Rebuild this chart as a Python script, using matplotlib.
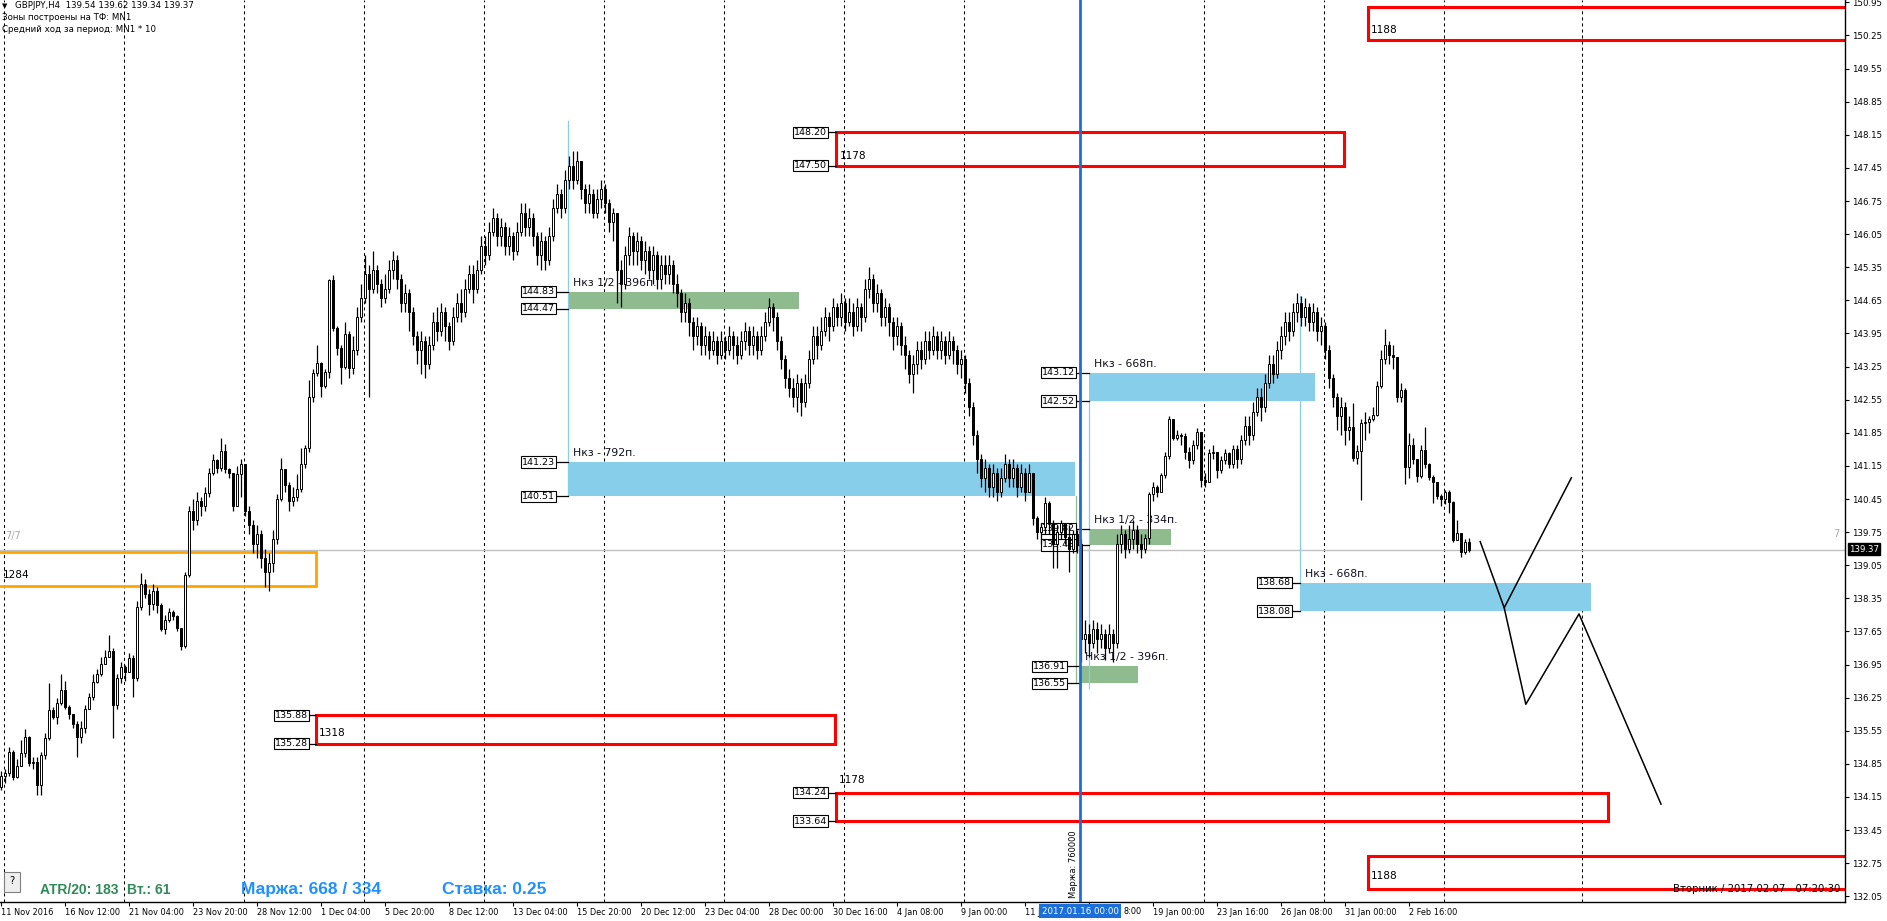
import numpy as np
import matplotlib
matplotlib.use('Agg')
import matplotlib.pyplot as plt
from matplotlib.patches import Rectangle

plt.rcParams['font.family'] = ['DejaVu Sans']

W, H = 1887, 921

# ---------------- H4 candles (bar 0 = first visible bar) ----------------
open0 = 134.37
close = [
 134.60,134.65,135.10,134.58,134.80,135.07,135.41,134.86,134.90,134.40,135.03,135.39,135.99,135.85,136.13,136.41,136.06,135.90,135.69,135.41,135.60,136.02,136.27,136.59,136.76,136.97,137.10,137.23,136.09,136.66,
 136.90,136.80,137.08,136.66,138.17,138.66,138.45,138.24,138.50,138.20,137.71,137.89,138.06,137.97,137.73,137.34,138.84,140.20,140.00,140.40,140.30,140.57,140.99,141.27,141.10,141.46,141.08,140.99,140.30,140.97,
 141.20,140.20,139.90,139.50,139.70,139.20,138.90,139.10,139.60,140.45,141.08,140.74,140.40,140.50,140.67,141.18,141.52,142.61,143.12,143.32,142.84,143.13,145.08,144.06,143.65,143.25,143.93,143.23,143.60,144.30,
 144.70,145.20,144.90,145.30,145.00,144.70,144.90,145.30,145.50,145.10,144.60,144.80,144.40,143.90,143.60,143.80,143.30,143.70,144.20,144.00,144.40,144.10,143.80,144.30,144.60,144.40,144.90,145.20,144.90,145.30,
 145.80,145.60,146.10,146.40,146.00,146.20,145.80,146.00,145.70,146.10,146.50,146.20,146.40,146.00,145.60,145.90,145.50,146.00,146.60,146.90,146.60,147.20,147.50,147.20,147.60,147.00,146.70,146.90,146.50,146.80,
 147.00,146.70,146.30,146.50,145.30,145.00,145.60,146.00,145.70,145.90,145.50,145.70,145.30,145.60,145.10,145.40,145.20,145.40,145.00,144.80,144.40,144.60,144.20,143.90,144.10,143.70,143.90,143.60,143.80,143.50,
 143.80,143.60,143.90,143.70,143.50,143.80,144.00,143.70,143.90,143.60,143.90,144.20,144.50,144.30,143.80,143.40,143.00,142.80,142.60,142.90,142.50,142.90,143.40,143.90,143.70,144.00,144.30,144.10,144.50,144.30,
 144.60,144.20,144.40,144.10,144.50,144.30,144.90,145.10,144.60,144.80,144.30,144.50,144.20,143.90,144.10,143.70,143.50,143.10,143.30,143.60,143.40,143.80,143.60,143.90,143.60,143.80,143.50,143.80,143.60,143.30,
 143.40,142.90,142.40,141.80,141.30,140.90,141.10,140.70,141.00,140.60,140.90,141.20,140.90,141.10,140.70,141.00,140.60,140.99,140.04,139.76,139.86,140.36,139.95,139.50,139.76,139.94,139.65,139.40,139.70,139.50,
 137.50,137.60,137.40,137.70,137.50,137.60,137.30,137.60,137.40,139.50,139.70,139.40,139.60,139.80,139.50,139.40,139.62,140.56,140.71,140.60,140.96,141.36,142.14,141.75,141.80,141.78,141.45,141.27,141.60,141.87,
 140.85,140.80,141.42,141.45,141.06,141.27,141.42,141.20,141.50,141.30,141.70,142.00,141.80,142.30,142.60,142.40,142.90,143.30,143.10,143.60,143.90,144.20,144.00,144.40,144.60,144.30,144.50,144.20,144.40,144.00,
 144.10,143.60,143.00,142.60,142.20,142.40,141.90,141.98,141.31,141.47,142.05,142.07,142.14,142.23,142.83,143.40,143.70,143.50,143.45,142.61,142.76,141.12,141.59,141.30,140.94,141.49,141.19,140.91,140.80,140.52,
 140.44,140.59,140.39,139.58,139.74,139.32,139.55,139.37]
high = [
 134.70,134.75,135.20,135.15,134.95,135.35,135.58,135.45,135.00,135.00,135.10,135.50,136.56,136.05,136.25,136.76,136.60,136.10,135.90,135.75,135.75,136.10,136.35,136.75,136.85,137.10,137.25,137.57,137.30,136.75,
 137.00,136.95,137.20,137.15,138.30,138.88,138.75,138.55,138.65,138.60,138.25,138.00,138.15,138.10,138.00,137.40,138.90,140.30,140.45,140.60,140.50,140.70,141.10,141.40,141.30,141.73,141.61,141.10,141.00,141.15,
 141.30,140.95,140.30,140.00,139.90,139.80,139.40,139.30,139.80,140.55,141.31,141.06,140.80,140.70,140.98,141.52,141.60,142.96,143.20,143.70,143.35,143.20,145.11,145.18,144.10,143.70,144.20,144.00,143.90,144.50,
 145.00,145.60,145.40,145.70,145.40,145.10,145.20,145.50,145.70,145.60,145.20,145.00,144.90,144.50,144.00,144.00,143.90,143.90,144.40,144.50,144.60,144.50,144.20,144.50,144.80,144.90,145.10,145.40,145.40,145.50,
 146.00,146.00,146.30,146.60,146.50,146.40,146.30,146.20,146.10,146.30,146.70,146.70,146.60,146.50,146.10,146.10,146.00,146.20,146.80,147.10,147.00,147.40,147.70,147.80,147.80,147.60,147.10,147.10,147.00,147.00,
 147.20,147.10,146.80,146.60,146.50,145.50,145.80,146.20,146.10,146.10,146.00,145.90,145.80,145.80,145.70,145.60,145.60,145.60,145.50,145.20,144.90,144.80,144.70,144.30,144.30,144.20,144.10,144.00,144.00,143.90,
 144.00,143.90,144.10,144.00,143.90,144.00,144.20,144.10,144.10,144.00,144.10,144.40,144.70,144.60,144.40,143.90,143.50,143.20,143.00,143.10,143.00,143.10,143.60,144.10,144.10,144.30,144.50,144.40,144.70,144.60,
 144.80,144.70,144.70,144.60,144.70,144.60,145.10,145.35,145.20,145.00,144.90,144.70,144.60,144.30,144.30,144.20,143.90,143.60,143.50,143.80,143.80,144.00,144.00,144.10,144.00,144.00,143.90,144.00,143.90,143.70,
 143.60,143.50,143.00,142.50,141.90,141.40,141.30,141.20,141.20,141.10,141.10,141.40,141.30,141.30,141.20,141.20,141.10,141.20,141.00,140.10,139.95,140.50,140.40,140.00,139.90,140.00,139.95,139.90,139.80,139.80,
 139.60,137.90,137.80,137.90,137.85,137.80,137.70,137.80,137.70,139.70,139.90,139.80,139.90,140.00,139.90,139.70,139.70,140.60,140.80,140.75,141.00,141.45,142.20,142.15,141.90,141.85,141.85,141.56,141.70,141.95,
 141.42,140.99,141.50,141.60,141.45,141.35,141.50,141.45,141.60,141.60,141.80,142.20,142.20,142.50,142.80,142.80,143.10,143.50,143.50,143.80,144.10,144.40,144.40,144.60,144.80,144.75,144.70,144.60,144.60,144.50,
 144.30,144.20,143.70,143.10,142.70,142.60,142.50,142.20,142.47,141.60,142.15,142.30,142.20,142.40,142.95,143.60,144.05,143.80,143.70,143.40,142.90,142.80,141.85,141.75,141.30,141.60,141.98,141.21,140.95,140.82,
 140.55,140.64,140.64,140.40,140.01,139.74,139.60,139.62]
low = [
 134.30,134.45,134.60,134.50,134.55,134.80,135.00,134.80,134.75,134.19,134.20,134.95,135.35,135.80,135.70,136.10,136.00,135.80,135.60,135.00,135.30,135.50,136.00,136.20,136.55,136.70,137.00,137.10,135.39,136.00,
 136.55,136.60,136.80,136.27,136.60,138.10,138.35,138.00,138.10,138.05,137.65,137.60,137.85,137.90,137.65,137.26,137.30,138.80,139.80,139.90,140.10,140.20,140.50,140.95,141.00,141.05,141.00,140.90,140.20,140.30,
 140.50,140.10,139.70,139.30,139.20,139.00,138.60,138.50,138.90,139.50,140.40,140.60,140.20,140.30,140.40,140.60,141.10,141.45,142.50,143.05,142.61,142.80,143.00,144.00,143.50,142.89,143.20,143.00,143.10,143.50,
 144.20,144.60,142.60,144.80,144.80,144.50,144.60,144.80,145.10,144.90,144.40,144.40,144.00,143.70,143.30,143.10,143.00,143.20,143.60,143.80,143.90,143.80,143.60,143.70,144.20,144.20,144.30,144.80,144.60,144.80,
 145.20,145.40,145.50,146.00,145.80,145.80,145.60,145.60,145.50,145.60,146.00,146.00,146.00,145.80,145.40,145.30,145.30,145.40,145.90,146.50,146.40,146.50,147.00,147.00,147.10,146.80,146.50,146.50,146.40,146.40,
 146.60,146.50,146.10,145.90,144.60,144.50,144.90,145.40,145.40,145.40,145.30,145.20,145.10,145.00,144.90,144.90,145.00,145.00,144.80,144.50,144.20,144.20,143.90,143.60,143.70,143.50,143.50,143.40,143.50,143.30,
 143.40,143.40,143.50,143.40,143.30,143.40,143.60,143.50,143.50,143.40,143.50,143.80,144.10,144.00,143.60,143.20,142.80,142.60,142.40,142.30,142.20,142.40,142.80,143.30,143.40,143.60,143.90,143.80,144.00,144.10,
 144.10,144.00,144.10,143.90,144.00,144.00,144.20,144.70,144.40,144.40,144.10,144.10,143.90,143.60,143.70,143.50,143.20,142.90,142.70,143.10,143.20,143.30,143.40,143.50,143.40,143.40,143.30,143.40,143.30,143.10,
 143.00,142.70,142.20,141.60,141.00,140.70,140.60,140.50,140.50,140.40,140.50,140.80,140.70,140.70,140.50,140.60,140.40,140.70,139.90,139.60,139.50,139.70,139.70,139.00,139.00,139.60,139.50,138.90,139.30,139.30,
 137.00,137.20,137.10,137.30,137.20,137.30,137.05,137.20,137.00,137.30,139.30,139.20,139.30,139.40,139.30,139.20,139.30,139.50,140.40,140.50,140.60,140.90,141.30,141.70,141.70,141.60,141.30,141.10,141.20,141.50,
 140.70,140.70,140.80,141.30,140.90,141.00,141.20,141.10,141.10,141.10,141.20,141.60,141.60,141.70,142.20,142.10,142.30,142.80,142.90,143.00,143.40,143.70,143.80,143.90,144.20,144.10,144.10,144.00,144.00,143.80,
 143.70,143.40,142.80,142.40,141.90,141.80,141.60,141.70,141.25,141.20,140.43,141.70,141.85,142.10,142.20,142.80,143.30,143.30,143.20,142.50,142.50,140.77,140.90,141.20,140.80,140.90,141.10,140.85,140.36,140.45,
 140.30,140.35,140.15,139.55,139.60,139.23,139.28,139.34]

# time axis: one label every 16 bars (two of them are mostly hidden by the marker tag)
time_labels = ['11 Nov 2016', '16 Nov 12:00', '21 Nov 04:00', '23 Nov 20:00', '28 Nov 12:00',
               '1 Dec 04:00', '5 Dec 20:00', '8 Dec 12:00', '13 Dec 04:00', '15 Dec 20:00',
               '20 Dec 12:00', '23 Dec 04:00', '28 Dec 00:00', '30 Dec 16:00', '4 Jan 08:00',
               '9 Jan 00:00', '11 J', '', '19 Jan 00:00', '23 Jan 16:00',
               '26 Jan 08:00', '31 Jan 00:00', '2 Feb 16:00']
hidden_tail = '8:00'
price_ticks = [132.05, 132.75, 133.45, 134.15, 134.85, 135.55, 136.25, 136.95, 137.65, 138.35,
               139.05, 139.75, 140.45, 141.15, 141.85, 142.55, 143.25, 143.95, 144.65, 145.35,
               146.05, 146.75, 147.45, 148.15, 148.85, 149.55, 150.25, 150.95]
week_starts = [0.75, 30.75, 60.75, 90.75, 120.75, 150.75, 180.75, 210.75, 240.75, 300.75, 330.75, 360.75, 395.25]
bid = 139.37

# zones: (bar from, bar to, top price, bottom price)
red_zones = [(341.75, 470, 150.85, 150.15), (208.75, 335.75, 148.20, 147.50),
             (78.75, 208.5, 135.88, 135.28), (208.75, 401.75, 134.24, 133.64),
             (341.75, 470, 132.90, 132.20)]
red_texts = ['1188', '1178', '1318', '1178', '1188']
orange_zone = (-5, 78.75, 139.32, 138.62)
blue_zones = [(141.75, 268.5, 141.23, 140.51), (272.0, 328.5, 143.12, 142.52), (324.75, 397.5, 138.68, 138.08)]
blue_names = ['Нкз - 792п.', 'Нкз - 668п.', 'Нкз - 668п.']
green_zones = [(141.75, 199.5, 144.83, 144.47), (272.0, 292.5, 139.82, 139.48), (269.75, 284.25, 136.91, 136.55)]
green_names = ['Нкз 1/2 - 396п.', 'Нкз 1/2 - 334п.', 'Нкз 1/2 - 396п.']
# price tag boxes: (right edge bar, zone left bar, top, bottom)
tag_boxes = [(139.0, 141.75, 144.83, 144.47), (139.0, 141.75, 141.23, 140.51),
             (77.3, 78.75, 135.88, 135.28), (207.0, 208.75, 148.20, 147.50),
             (207.0, 208.75, 134.24, 133.64), (269.0, 272.0, 143.12, 142.52),
             (269.0, 272.0, 139.82, 139.48), (266.8, 269.75, 136.91, 136.55),
             (323.0, 324.75, 138.68, 138.08)]
# thin vertical links (bar, from, to, colour)
zone_links = [(141.75, 148.45, 140.51, '#87CEEB'), (272.0, 142.52, 136.45, '#87CEEB'),
              (324.75, 144.75, 138.08, '#87CEEB'), (268.75, 140.51, 136.55, '#8FBC8F')]
# forecast zigzags
fc_a_x, fc_a_y = [369.8, 375.8, 392.6], [139.55, 138.15, 140.90]
fc_b_x, fc_b_y = [375.8, 381.2, 394.5, 415.0], [138.15, 136.11, 138.02, 134.00]
marker_bar = 269.75

# ---------------- figure ----------------
fig = plt.figure(figsize=(W / 100, H / 100), dpi=100)
ax = fig.add_axes([0, 19 / H, 1845 / W, 902 / H])
ax.set_xlim(-0.25, 461.0)
ax.set_ylim(131.93, 151.0)
for s in ['top', 'left']:
    ax.spines[s].set_visible(False)
ax.spines['right'].set_linewidth(1.0)
ax.spines['bottom'].set_linewidth(1.0)

def px(x, y):
    return x / W, 1 - y / H

# week separators
for x in week_starts:
    ax.axvline(x, color='black', lw=0.75, ls=(0, (2.9, 2.9)), zorder=1)

# zones
for (x0, x1, t, b), txt in zip(red_zones, red_texts):
    ax.add_patch(Rectangle((x0, b), x1 - x0, t - b, fill=False, ec='#FF0000', lw=2.2, zorder=2))
x0, x1, t, b = orange_zone
ax.add_patch(Rectangle((x0, b), x1 - x0, t - b, fill=False, ec='#FFA500', lw=2.0, zorder=2))
for (x0, x1, t, b), name in zip(blue_zones, blue_names):
    ax.add_patch(Rectangle((x0, b), x1 - x0, t - b, fc='#87CEEB', ec='none', zorder=1.5))
    ax.annotate(name, (x0, t), xytext=(5, 9), textcoords='offset pixels', va='center',
                fontsize=7.8, color='#101020', zorder=2)
for (x0, x1, t, b), name in zip(green_zones, green_names):
    ax.add_patch(Rectangle((x0, b), x1 - x0, t - b, fc='#8FBC8F', ec='none', zorder=1.5))
    ax.annotate(name, (x0, t), xytext=(5, 9), textcoords='offset pixels', va='center',
                fontsize=7.8, color='#101020', zorder=2)
for xb, xz, t, b in tag_boxes:
    for p in (t, b):
        ax.plot([xb, xz], [p, p], color='black', lw=0.9, zorder=2)
        ax.text(xb - 0.5, p, f'{p:.2f}', ha='right', va='center', fontsize=6.8, zorder=2.5,
                bbox=dict(boxstyle='square,pad=0.12', fc='white', ec='black', lw=0.8))
for x, p0, p1, c in zone_links:
    ax.plot([x, x], [p0, p1], color=c, lw=0.9, zorder=1.6)

# zone size labels
red_text_pos = [(1371, 30), (840, 156), (319, 733), (839, 780), (1371, 876)]
for (xf, yf), txt in zip(red_text_pos, red_texts):
    fig.text(*px(xf, yf), txt, ha='left', va='center', fontsize=7.6, color='black')
fig.text(*px(3, 575), '1284', ha='left', va='center', fontsize=7.6, color='black')

# bid line
ax.axhline(bid, color='#C0C0C0', lw=1.0, zorder=1)
fig.text(*px(5, 536), '7/7', fontsize=7, color='#A8A8A8', va='center')
fig.text(*px(1833, 534), '7', fontsize=7, color='#A8A8A8', va='center')

# candles
c = np.array(close)
o = np.concatenate([[open0], c[:-1]])
h = np.maximum(np.array(high), np.maximum(o, c))
l = np.minimum(np.array(low), np.minimum(o, c))
xs = np.arange(len(c))
ax.vlines(xs, l, h, color='black', lw=0.9, zorder=3)
body_b = np.minimum(o, c)
body_h = np.maximum(np.abs(c - o), 0.012)
face = ['white' if cc >= oo else 'black' for oo, cc in zip(o, c)]
ax.bar(xs, body_h, bottom=body_b, width=0.55, color=face, edgecolor='black', linewidth=0.7, zorder=4)

# forecast
ax.plot(fc_a_x, fc_a_y, color='black', lw=1.1, zorder=5)
ax.plot(fc_b_x, fc_b_y, color='black', lw=1.1, zorder=5)

# blue time marker
ax.axvline(marker_bar, color='#1C6FD8', lw=2.0, zorder=6)
ax.text(marker_bar - 1.6, 132.02, 'Маржа: 760000', rotation=90, ha='center', va='bottom',
        fontsize=6, color='black', zorder=6)

# axes ticks
ax.yaxis.tick_right()
ax.set_yticks(price_ticks)
ax.set_yticklabels([f'{v:.2f}' for v in price_ticks])
ax.tick_params(axis='y', direction='out', length=3, width=0.8, pad=2.2, labelsize=6.2)
ax.set_xticks([16 * k for k in range(len(time_labels))])
ax.set_xticklabels(time_labels, ha='left')
ax.tick_params(axis='x', direction='out', length=3, width=0.8, pad=1.5, labelsize=5.9)

# current price tag and time tag
fig.text(*px(1849, 549), f'{bid:.2f}', ha='left', va='center', fontsize=6.2, color='white',
         bbox=dict(boxstyle='square,pad=0.15', fc='black', ec='black'))
fig.text(*px(1080, 911), '2017.01.16 00:00', ha='center', va='center', fontsize=6.2, color='white',
         bbox=dict(boxstyle='square,pad=0.25', fc='#1C6FD8', ec='none'), zorder=10)
fig.text(*px(1123, 911), hidden_tail, ha='left', va='center', fontsize=5.9, color='black')

# header
fig.text(*px(2, 6), '\u25bc', fontsize=5, va='center', color='black')
fig.text(*px(15, 6), 'GBPJPY,H4  139.54 139.62 139.34 139.37', fontsize=6.2, va='center')
fig.text(*px(2, 17), 'Зоны построены на ТФ: MN1', fontsize=6.2, va='center')
fig.text(*px(2, 29), 'Средний ход за период: MN1 * 10', fontsize=6.2, va='center')

# bottom info line
fig.patches.append(Rectangle(px(4, 892), 16 / W, 20 / H, transform=fig.transFigure,
                             fc='#EFEFEF', ec='#808080', lw=0.8))
fig.text(*px(12, 881), '?', ha='center', va='center', fontsize=7)
fig.text(*px(40, 890), 'ATR/20: 183', fontsize=10, fontweight='bold', color='#2E8B57',
         family='Liberation Sans', va='center')
fig.text(*px(127, 890), 'Вт.: 61', fontsize=10, fontweight='bold', color='#2E8B57',
         family='Liberation Sans', va='center')
fig.text(*px(241, 889), 'Маржа: 668 / 334', fontsize=12.5, fontweight='bold', color='#1E90FF',
         family='Liberation Sans', va='center')
fig.text(*px(442, 889), 'Ставка: 0.25', fontsize=12.5, fontweight='bold', color='#1E90FF',
         family='Liberation Sans', va='center')
fig.text(*px(1840, 889), 'Вторник / 2017.02.07 - 07:20:30', ha='right', va='center',
         fontsize=7.3, color='black')

fig.savefig('out.png', dpi=100)
